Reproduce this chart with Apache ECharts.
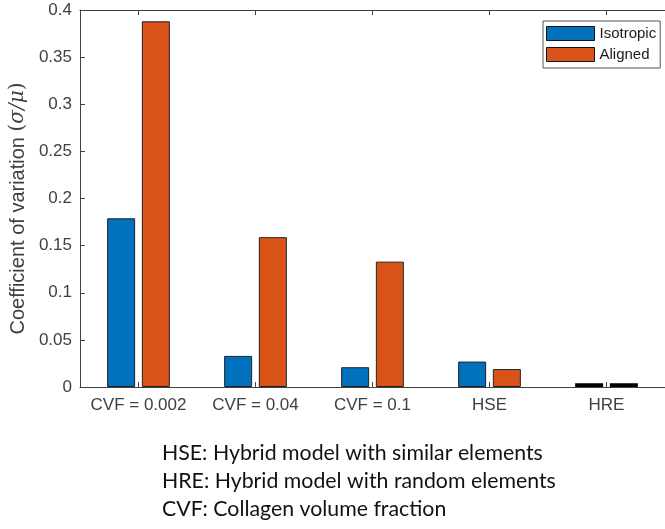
<!DOCTYPE html>
<html>
<head>
<meta charset="utf-8">
<script src="https://cdn.jsdelivr.net/npm/echarts@6/dist/echarts.min.js"></script>
<style>
  html, body { margin: 0; padding: 0; background: #fff; }
  #chart { width: 665px; height: 529px; }
</style>
</head>
<body>
<div id="chart"></div>
<script>
// Coefficient of variation per model, for isotropic and aligned collagen fibres
const categories = ['CVF = 0.002', 'CVF = 0.04', 'CVF = 0.1', 'HSE', 'HRE'];
const isotropic = [0.179, 0.033, 0.021, 0.027, 0.004];
const aligned = [0.388, 0.159, 0.133, 0.019, 0.004];
const yTicks = ['0', '0.05', '0.1', '0.15', '0.2', '0.25', '0.3', '0.35', '0.4'];
const notes = [
  'HSE: Hybrid model with similar elements',
  'HRE: Hybrid model with random elements',
  'CVF: Collagen volume fraction'
];

const BLUE = '#0072BD';
const ORANGE = '#D95319';
const AXIS = '#404040';
const FONT = 'Liberation Sans';
const SERIF = 'DejaVu Serif';

// The HRE bars are drawn in black with a heavy outline
function styled(values, color) {
  return values.map((v, i) => categories[i] === 'HRE'
    ? { value: v, itemStyle: { color: '#000', borderColor: '#000', borderWidth: 3.5 } }
    : { value: v, itemStyle: { color: color } });
}

const chart = echarts.init(document.getElementById('chart'), null, { renderer: 'canvas' });

chart.setOption({
  animation: false,
  backgroundColor: '#fff',
  textStyle: { fontFamily: FONT },
  grid: { left: 79, top: 10, width: 597, height: 377, containLabel: false },
  legend: {
    orient: 'vertical',
    left: 543,
    top: 21,
    icon: 'rect',
    itemWidth: 48,
    itemHeight: 14,
    itemGap: 6,
    padding: [5, 4, 6, 3],
    borderColor: '#555',
    borderWidth: 1,
    backgroundColor: '#fff',
    textStyle: { fontFamily: FONT, fontSize: 15, lineHeight: 14, color: '#1a1a1a' },
    data: [
      { name: 'Isotropic', itemStyle: { color: BLUE, borderColor: '#111', borderWidth: 1 } },
      { name: 'Aligned', itemStyle: { color: ORANGE, borderColor: '#111', borderWidth: 1 } }
    ]
  },
  xAxis: [
    {
      type: 'category',
      data: categories,
      position: 'bottom',
      axisLine: { show: true, lineStyle: { color: AXIS, width: 1 } },
      axisTick: { show: true, inside: true, alignWithLabel: true, length: 5, lineStyle: { color: AXIS } },
      axisLabel: { interval: 0, fontFamily: FONT, fontSize: 17, color: AXIS, margin: 10 },
      splitLine: { show: false }
    },
    {
      type: 'category',
      data: categories,
      position: 'top',
      axisLine: { show: true, lineStyle: { color: AXIS, width: 1 } },
      axisTick: { show: true, inside: true, alignWithLabel: true, length: 5, lineStyle: { color: AXIS } },
      axisLabel: { show: false },
      splitLine: { show: false }
    }
  ],
  yAxis: {
    type: 'value',
    min: 0,
    max: 0.4,
    interval: 0.05,
    axisLine: { show: true, lineStyle: { color: AXIS, width: 1 } },
    axisTick: { show: true, inside: true, length: 5, lineStyle: { color: AXIS } },
    splitLine: { show: false },
    axisLabel: {
      fontFamily: FONT, fontSize: 17, color: AXIS, margin: 8,
      formatter: (v) => yTicks[Math.round(v / 0.05)]
    },
    name: '{t|Coefficient of variation }{p|(}{m|σ/μ}{p|)}',
    nameLocation: 'middle',
    nameRotate: 90,
    nameGap: 42,
    nameTextStyle: {
      fontFamily: FONT, fontSize: 20, color: AXIS,
      padding: [0, 20, 0, 0],
      rich: {
        t: { fontFamily: FONT, fontSize: 20, color: AXIS },
        m: { fontFamily: SERIF, fontStyle: 'italic', fontSize: 20, color: AXIS },
        p: { fontFamily: SERIF, fontSize: 20, color: AXIS }
      }
    }
  },
  series: [
    {
      name: 'Isotropic',
      type: 'bar',
      xAxisIndex: 0,
      clip: false,
      data: styled(isotropic, BLUE),
      barWidth: 28,
      barGap: '24%',
      itemStyle: { borderColor: '#222', borderWidth: 1 }
    },
    {
      name: 'Aligned',
      type: 'bar',
      xAxisIndex: 0,
      clip: false,
      data: styled(aligned, ORANGE),
      barWidth: 28,
      barGap: '24%',
      itemStyle: { borderColor: '#222', borderWidth: 1 }
    }
  ],
  graphic: notes.map((t, i) => ({
    type: 'text',
    x: 162,
    y: 453 + i * 28,
    style: {
      text: t, fontFamily: 'Lato', fontSize: 21.3,
      fill: '#111', verticalAlign: 'middle'
    }
  }))
});
</script>
</body>
</html>
